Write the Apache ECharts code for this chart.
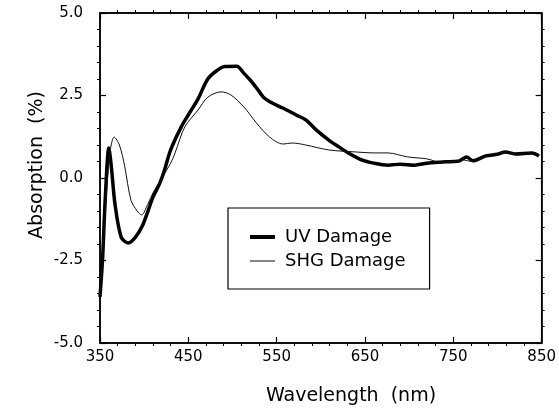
<!DOCTYPE html>
<html>
<head>
<meta charset="utf-8">
<script src="https://cdn.jsdelivr.net/npm/echarts@6/dist/echarts.min.js"></script>
<style>
  html, body { margin: 0; padding: 0; background: #fff; }
  #chart { width: 559px; height: 420px; }
</style>
</head>
<body>
<div id="chart"></div>
<script>
// UV damage curve (thick)
var uvWave = [350, 353, 356, 360, 363, 367, 374, 382, 390, 398, 405, 410, 417, 422, 430, 442, 452, 461, 472, 482,
  491, 505, 512, 520, 528, 535, 545, 557, 572, 583, 595, 609, 620, 631, 646, 660, 676, 690, 706, 720,
  735, 750, 757, 765, 772, 787, 800, 809, 820, 839, 847];
var uvAbs = [-3.6, -2.4, -0.6, 0.91, 0.3, -0.8, -1.79, -1.97, -1.8, -1.45, -0.95, -0.58, -0.2, 0.15, 0.85, 1.55, 2.0, 2.4, 3.0, 3.25,
  3.38, 3.39, 3.2, 2.97, 2.7, 2.45, 2.27, 2.12, 1.91, 1.76, 1.45, 1.15, 0.95, 0.76, 0.55, 0.45, 0.39, 0.42, 0.39, 0.45,
  0.48, 0.5, 0.52, 0.64, 0.52, 0.67, 0.72, 0.79, 0.73, 0.76, 0.67];
// SHG damage curve (thin)
var shgWave = [350, 354, 358, 362, 366, 372, 378, 385, 392, 397, 404, 410, 420, 430, 435, 446, 461, 472, 487, 498,
  513, 527, 542, 557, 568, 583, 609, 639, 661, 676, 698, 720, 735, 750, 760, 772, 787, 809, 820, 839, 847];
var shgAbs = [-3.6, -2.0, -0.2, 0.9, 1.24, 1.0, 0.35, -0.67, -1.0, -1.12, -0.8, -0.45, 0.0, 0.45, 0.76, 1.55, 2.06, 2.45, 2.61, 2.52,
  2.15, 1.67, 1.24, 1.03, 1.06, 1.0, 0.85, 0.79, 0.76, 0.76, 0.64, 0.58, 0.48, 0.5, 0.55, 0.5, 0.65, 0.79, 0.73, 0.76, 0.67];

var seriesNames = ['UV Damage', 'SHG Damage'];

function pairs(xs, ys) {
  var out = [];
  for (var i = 0; i < xs.length; i++) out.push([xs[i], ys[i]]);
  return out;
}

var font = 'DejaVu Sans';

// each axis gets its own style objects; minor ticks ignore "inside", so a negative length turns them inward
function frameAxis(extra) {
  var ax = {
    type: 'value',
    axisLine: { show: true, onZero: false, lineStyle: { color: '#000', width: 1.5 } },
    axisTick: { show: true, inside: true, length: 6, lineStyle: { color: '#000', width: 1.2 } },
    minorTick: { show: true, splitNumber: 5, length: -3, lineStyle: { color: '#000', width: 1 } },
    splitLine: { show: false },
    axisLabel: { show: false }
  };
  for (var k in extra) ax[k] = extra[k];
  return ax;
}

var myChart = echarts.init(document.getElementById('chart'));
var option = {
  animation: false,
  grid: { left: 100, top: 13, width: 450, height: 330, show: true, borderColor: '#000', borderWidth: 1.5 },
  xAxis: [
    frameAxis({ min: 350, max: 850, interval: 100, position: 'bottom',
      axisLabel: { color: '#000', fontFamily: font, fontSize: 15, margin: 7 } }),
    frameAxis({ min: 350, max: 850, interval: 100, position: 'top' })
  ],
  yAxis: [
    frameAxis({ min: -5, max: 5, interval: 2.5, position: 'left',
      axisLabel: { color: '#000', fontFamily: font, fontSize: 15, margin: 17,
        formatter: function (v) { return v.toFixed(1); } } }),
    frameAxis({ min: -5, max: 5, interval: 2.5, position: 'right' })
  ],
  legend: {
    orient: 'vertical', left: 228, top: 208,
    padding: [20, 24, 19, 20], itemGap: 6, itemWidth: 25, itemHeight: 14,
    borderColor: '#000', borderWidth: 1.2, borderRadius: 0,
    itemStyle: { opacity: 0 },
    data: [
      { name: seriesNames[0], lineStyle: { color: '#000', width: 4 } },
      { name: seriesNames[1], lineStyle: { color: '#111', width: 1 } }
    ],
    textStyle: { color: '#000', fontFamily: font, fontSize: 18, padding: [0, 0, 0, 5] }
  },
  graphic: [{
    type: 'text', x: 351, y: 396,
    style: { text: 'Wavelength  (nm)', font: '19px "DejaVu Sans"', fill: '#000', align: 'center', verticalAlign: 'middle' }
  }, {
    type: 'text', x: 37, y: 165, rotation: Math.PI / 2,
    style: { text: 'Absorption  (%)', font: '19px "DejaVu Sans"', fill: '#000', align: 'center', verticalAlign: 'middle' }
  }],
  series: [{
    name: seriesNames[0], type: 'line', symbol: 'none', smooth: 0.3,
    data: pairs(uvWave, uvAbs),
    lineStyle: { color: '#000', width: 3.5 }, itemStyle: { color: '#000' }
  }, {
    name: seriesNames[1], type: 'line', symbol: 'none', smooth: 0.3,
    data: pairs(shgWave, shgAbs),
    lineStyle: { color: '#111', width: 1 }, itemStyle: { color: '#111' }
  }]
};
myChart.setOption(option);
</script>
</body>
</html>
